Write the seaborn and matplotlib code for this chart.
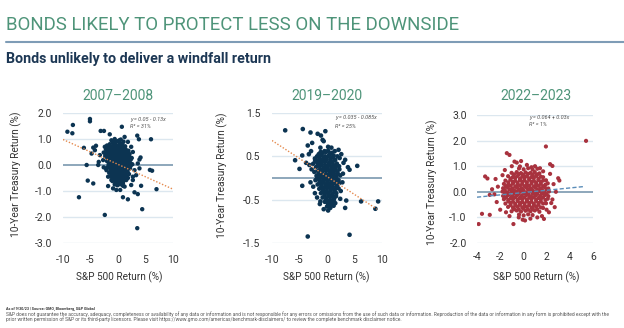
import matplotlib
matplotlib.use("Agg")
import matplotlib.pyplot as plt
import seaborn as sns
import pandas as pd
import numpy as np
from matplotlib.lines import Line2D
from matplotlib.ticker import FormatStrFormatter

# ---------------- text ----------------
title = "BONDS LIKELY TO PROTECT LESS ON THE DOWNSIDE"
subtitle = "Bonds unlikely to deliver a windfall return"
panel_titles = ["2007–2008", "2019–2020", "2022–2023"]
x_label = "S&P 500 Return (%)"
y_label = "10-Year Treasury Return (%)"
eq_lines = ["y = 0.05 - 0.13x", "y = 0.035 - 0.085x", "y = 0.064 + 0.03x"]
r2_lines = ["R² = 31%", "R² = 25%", "R² = 1%"]
source_line = "As of 9/30/23 | Source: GMO, Bloomberg, S&P Global"
disclaimer_1 = ("S&P does not guarantee the accuracy, adequacy, completeness or availability of any data or information and is not "
                "responsible for any errors or omissions from the use of such data or information. Reproduction of the data or "
                "information in any form is prohibited except with the")
disclaimer_2 = ("prior written permission of S&P or its third-party licensors. Please visit "
                "https://www.gmo.com/americas/benchmark-disclaimers/ to review the complete benchmark disclaimer notice.")

# ---------------- ticks ----------------
xticks = [[-10, -5, 0, 5, 10], [-10, -5, 0, 5, 10], [-4, -2, 0, 2, 4, 6]]
yticks = [[-3.0, -2.0, -1.0, 0.0, 1.0, 2.0], [-1.5, -0.5, 0.5, 1.5], [-2.0, -1.0, 0.0, 1.0, 2.0, 3.0]]

# fitted lines as drawn (intercept, slope, x-from, x-to)
fit_0708 = (0.025, -0.0955, -10, 10)
fit_1920 = (0.035, -0.083, -10, 9.1)
fit_2223 = (-0.03, 0.045, -4, 5.3)

# ---------------- data: (S&P 500 daily return, 10y Treasury return) ----------------
pts_0708 = [
    (-9.2, 1.28), (-8.2, 1.54), (-8.3, 1.22), (-5.1, 1.77), (-5.1, 1.68), (-6.2, 0.66), (-4.5, 0.67), (-4.0, 0.74),
    (-5.7, 0.0), (-3.6, 0.0), (-7.1, -1.24), (-5.5, -0.6), (-4.5, -0.71), (-2.4, -1.92), (0.7, 1.47), (3.5, 1.13),
    (3.8, 0.99), (6.0, 0.99), (5.8, -0.19), (6.2, -0.22), (7.0, -0.93), (4.4, -1.7), (3.5, -2.43), (1.8, -1.32),
    (0.9, -1.24), (3.0, -1.05), (3.6, -1.12), (4.2, -0.8), (3.9, 0.21), (4.1, 0.29), (-3.5, 0.12), (-3.15, 1.31),
    (-2.55, 1.31), (-1.5, 1.18), (-4.2, 0.57), (-4.8, 0.44), (-3.3, 0.38), (-2.7, 0.19), (-2.6, -0.09), (-2.1, -0.2),
    (-1.8, -0.45), (-1.2, -0.58), (-1.8, -0.81), (-0.9, -0.9), (-0.3, -0.96), (0.4, -0.96), (1.2, -0.83), (2.4, -0.77),
    (2.7, -0.45), (3.0, -0.2), (2.4, 0.0), (2.1, 0.31), (2.7, 0.5), (2.4, 0.7), (1.8, 0.89), (1.2, 1.08),
    (3.6, 0.06), (3.9, -0.13), (3.3, -0.39), (2.7, -0.58), (1.5, -0.58), (0.9, -0.7),
    (-1.2, 0.95), (-0.6, 1.0), (0.0, 0.92), (0.5, 0.98), (-0.9, 0.85), (0.3, 0.85), (1.0, 0.9),
    (-2.0, 0.75), (-1.5, 0.8), (-1.0, 0.72), (-0.4, 0.78), (0.1, 0.74), (0.7, 0.76), (1.3, 0.72), (-2.4, 0.7),
    (-2.2, 0.6), (-1.7, 0.62), (-1.2, 0.58), (-0.7, 0.63), (-0.2, 0.6), (0.3, 0.62), (0.8, 0.58), (1.4, 0.6), (1.9, 0.55),
    (-2.6, 0.48), (-2.0, 0.45), (-1.5, 0.47), (-1.0, 0.44), (-0.5, 0.48), (0.0, 0.45), (0.5, 0.47), (1.0, 0.43), (1.6, 0.46), (2.1, 0.42),
    (-2.3, 0.32), (-1.8, 0.3), (-1.3, 0.33), (-0.8, 0.29), (-0.3, 0.31), (0.2, 0.3), (0.7, 0.33), (1.2, 0.28), (1.8, 0.3), (2.5, 0.27),
    (-2.0, 0.15), (-1.5, 0.17), (-1.0, 0.14), (-0.5, 0.16), (0.0, 0.13), (0.5, 0.17), (1.0, 0.15), (1.5, 0.12), (2.0, 0.16),
    (-1.7, 0.02), (-1.2, -0.01), (-0.7, 0.03), (-0.2, 0.0), (0.3, 0.02), (0.8, -0.02), (1.3, 0.01), (1.9, -0.03), (2.6, 0.03),
    (-2.2, -0.13), (-1.4, -0.15), (-0.9, -0.17), (-0.4, -0.14), (0.1, -0.16), (0.6, -0.13), (1.1, -0.15), (1.6, -0.18), (2.2, -0.12),
    (-1.6, -0.3), (-1.1, -0.32), (-0.6, -0.28), (-0.1, -0.31), (0.4, -0.29), (0.9, -0.33), (1.5, -0.3), (2.0, -0.35),
    (-1.3, -0.45), (-0.8, -0.47), (-0.3, -0.44), (0.2, -0.46), (0.7, -0.43), (1.2, -0.48), (1.8, -0.5),
    (-1.0, -0.62), (-0.5, -0.6), (0.0, -0.63), (0.5, -0.58), (1.0, -0.61),
    (-0.6, -0.75), (-0.1, -0.78), (0.4, -0.74), (0.9, -0.8),
    (-0.95, 0.88), (-0.35, 0.9), (0.25, 0.95), (0.8, 0.82), (-1.75, 0.7), (-1.25, 0.68), (-0.7, 0.7), (-0.15, 0.68), (0.45, 0.7), (1.0, 0.66),
    (-1.95, 0.52), (-1.45, 0.54), (-0.95, 0.52), (-0.45, 0.55), (0.05, 0.53), (0.55, 0.55), (1.1, 0.5), (1.7, 0.52),
    (-2.3, 0.38), (-1.75, 0.39), (-1.25, 0.38), (-0.75, 0.4), (-0.25, 0.38), (0.25, 0.39), (0.75, 0.38), (1.3, 0.37), (1.95, 0.36),
    (-1.8, 0.22), (-1.25, 0.23), (-0.75, 0.22), (-0.25, 0.23), (0.25, 0.22), (0.75, 0.24), (1.25, 0.21), (1.75, 0.23), (2.3, 0.2),
    (-1.45, 0.08), (-0.95, 0.07), (-0.45, 0.09), (0.05, 0.06), (0.55, 0.08), (1.05, 0.07), (1.6, 0.05), (2.2, 0.07),
    (-1.8, -0.07), (-1.15, -0.08), (-0.65, -0.06), (-0.15, -0.08), (0.35, -0.07), (0.85, -0.09), (1.35, -0.06), (1.9, -0.1),
    (-1.35, -0.23), (-0.85, -0.22), (-0.35, -0.24), (0.15, -0.22), (0.65, -0.23), (1.2, -0.25), (1.75, -0.24),
    (-1.05, -0.38), (-0.55, -0.37), (-0.05, -0.39), (0.45, -0.37), (0.95, -0.4), (1.5, -0.4),
    (-0.75, -0.53), (-0.25, -0.52), (0.25, -0.54), (0.75, -0.52), (1.3, -0.56),
    (-0.35, -0.68), (0.15, -0.7), (0.65, -0.67),
]

pts_1920 = [
    (-7.6, 1.10), (-4.4, 1.13), (-3.0, 1.05), (-1.7, 1.02), (-1.1, 0.98), (-0.3, 1.08), (-0.8, 0.88), (-0.6, 0.85),
    (-2.7, 0.81), (-3.5, 0.75), (-5.8, 0.41), (-4.5, 0.52), (-5.0, 0.21), (-4.5, -0.18), (2.1, 0.65), (3.3, 0.42),
    (3.8, 0.25), (4.1, 0.19), (5.5, 0.28), (6.2, -0.54), (9.3, -0.54), (8.8, -0.71), (3.3, -0.69), (3.5, -0.52),
    (2.4, -0.48), (-3.5, -1.35), (4.1, -1.31), (-1.2, -0.54), (0.6, -0.69), (1.2, -0.64),
    (-3.3, 0.55), (-2.9, 0.62), (-3.2, 0.3), (-2.8, 0.2), (-3.0, -0.1), (-2.5, -0.2), (-2.2, -0.35), (-1.8, -0.45),
    (-1.3, -0.6), (2.5, -0.3), (2.8, -0.1), (2.9, 0.1), (3.0, 0.35), (2.6, 0.55), (-3.8, 0.35), (-1.2, 0.7),
    (0.2, 0.72), (0.8, 0.7), (1.4, 0.62), (-0.6, -0.72), (1.5, -0.58), (0.2, -0.75),
    (-1.5, 0.55), (-0.8, 0.58), (-0.2, 0.6), (0.5, 0.55), (1.2, 0.52),
    (-2.2, 0.45), (-1.4, 0.47), (-0.7, 0.44), (0.0, 0.48), (0.7, 0.45), (1.5, 0.42), (2.3, 0.46),
    (-2.5, 0.33), (-1.8, 0.36), (-1.1, 0.35), (-0.4, 0.37), (0.3, 0.34), (1.0, 0.36), (1.8, 0.33),
    (-2.0, 0.25), (-1.3, 0.27), (-0.6, 0.24), (0.1, 0.26), (0.8, 0.25), (1.5, 0.23), (2.2, 0.27),
    (-2.3, 0.14), (-1.6, 0.16), (-0.9, 0.15), (-0.2, 0.17), (0.5, 0.14), (1.2, 0.16), (1.9, 0.13),
    (-1.9, 0.05), (-1.2, 0.06), (-0.5, 0.04), (0.2, 0.06), (0.9, 0.05), (1.6, 0.03), (2.4, 0.06),
    (-2.1, -0.05), (-1.4, -0.04), (-0.7, -0.06), (0.0, -0.05), (0.7, -0.04), (1.4, -0.07), (2.1, -0.05),
    (-1.7, -0.15), (-1.0, -0.14), (-0.3, -0.16), (0.4, -0.15), (1.1, -0.13), (1.8, -0.17),
    (-1.4, -0.25), (-0.7, -0.26), (0.0, -0.24), (0.7, -0.25), (1.4, -0.27), (2.1, -0.24),
    (-1.1, -0.35), (-0.4, -0.36), (0.3, -0.34), (1.0, -0.37), (1.7, -0.35),
    (-0.8, -0.45), (-0.1, -0.47), (0.6, -0.44), (1.3, -0.46),
    (-0.4, -0.55), (0.3, -0.57), (1.0, -0.54),
    (0.0, -0.66), (0.7, -0.64),
    (-1.15, 0.6), (-0.45, 0.62), (0.2, 0.63), (0.85, 0.58),
    (-1.8, 0.5), (-1.05, 0.52), (-0.35, 0.5), (0.35, 0.52), (1.1, 0.49), (1.9, 0.5),
    (-2.15, 0.4), (-1.45, 0.41), (-0.75, 0.4), (-0.05, 0.42), (0.65, 0.39), (1.4, 0.41),
    (-1.65, 0.3), (-0.95, 0.31), (-0.25, 0.29), (0.45, 0.31), (1.15, 0.3), (1.85, 0.29),
    (-1.25, 0.2), (-0.55, 0.21), (0.15, 0.2), (0.85, 0.21), (1.55, 0.19), (2.25, 0.2),
    (-1.55, 0.1), (-0.85, 0.11), (-0.15, 0.09), (0.55, 0.11), (1.25, 0.1), (1.95, 0.09),
    (-1.75, 0.0), (-1.05, 0.01), (-0.35, -0.01), (0.35, 0.0), (1.05, 0.01), (1.75, -0.01),
    (-1.35, -0.1), (-0.65, -0.09), (0.05, -0.11), (0.75, -0.1), (1.45, -0.09), (2.2, -0.12),
    (-1.05, -0.2), (-0.35, -0.21), (0.35, -0.19), (1.05, -0.2), (1.75, -0.22),
    (-0.75, -0.3), (-0.05, -0.31), (0.65, -0.29), (1.35, -0.31),
    (-0.45, -0.4), (0.25, -0.41), (0.95, -0.39), (1.65, -0.42),
    (-0.15, -0.5), (0.55, -0.51), (1.25, -0.5),
    (0.2, -0.6), (0.85, -0.6),
]

pts_2223 = [
    (5.4, 1.99), (1.94, 1.77), (-1.43, 1.51), (-1.2, 1.44), (2.3, 1.08), (2.5, 1.01), (-3.86, -1.26), (-3.57, -0.86),
    (-2.9, -0.9), (-3.3, 0.6), (-3.1, 0.52), (3.0, 0.53), (3.1, 0.44), (-0.86, -1.26), (-0.06, -1.09), (0.14, -1.12),
    (1.77, -1.06), (1.43, 0.92), (-0.77, 1.18), (-0.57, 1.14), (-0.3, 0.99), (0.7, 0.96),
    (-2.4, 0.5), (-2.2, 0.2), (-2.5, -0.1), (-2.3, -0.4), (-2.0, -0.7), (-1.8, 0.65), (-1.6, 0.85), (-1.0, 1.0),
    (-0.2, 1.2), (0.3, 1.05), (1.0, 1.0), (1.2, 0.9), (1.7, 0.8), (2.3, 0.7), (2.6, 0.3), (2.8, 0.0),
    (2.5, -0.3), (2.7, -0.6), (2.2, -0.8), (1.6, -0.95), (1.2, -1.0), (0.6, -1.05), (-0.4, -1.0), (-1.2, -0.95),
    (-1.5, -0.8), (-2.7, 0.1), (-2.9, -0.12), (2.4, -0.44), (2.0, -0.7),
    (-0.38, 0.91), (0.02, 0.88), (0.41, 0.92), (0.79, 0.87),
    (-1.02, 0.74), (-0.58, 0.77), (-0.21, 0.73), (0.18, 0.76), (0.62, 0.74), (0.98, 0.77), (1.38, 0.72),
    (-1.32, 0.61), (-0.9, 0.58), (-0.5, 0.62), (-0.1, 0.59), (0.3, 0.61), (0.7, 0.58), (1.1, 0.62), (1.5, 0.59), (1.7, 0.57),
    (-1.55, 0.44), (-1.12, 0.47), (-0.7, 0.43), (-0.3, 0.46), (0.1, 0.44), (0.5, 0.47), (0.9, 0.43), (1.3, 0.46), (1.7, 0.44), (1.95, 0.45),
    (-1.68, 0.31), (-1.3, 0.28), (-0.9, 0.32), (-0.5, 0.29), (-0.1, 0.31), (0.3, 0.28), (0.7, 0.32), (1.1, 0.29), (1.5, 0.31), (1.9, 0.28), (2.1, 0.33),
    (-1.75, 0.14), (-1.35, 0.17), (-0.95, 0.13), (-0.55, 0.16), (-0.15, 0.14), (0.25, 0.17), (0.65, 0.13), (1.05, 0.16), (1.45, 0.14), (1.85, 0.17), (2.15, 0.13),
    (-1.8, 0.01), (-1.4, -0.02), (-1.0, 0.02), (-0.6, -0.01), (-0.2, 0.02), (0.2, -0.02), (0.6, 0.01), (1.0, -0.01), (1.4, 0.02), (1.8, -0.02), (2.2, 0.01),
    (-1.75, -0.16), (-1.35, -0.13), (-0.95, -0.17), (-0.55, -0.14), (-0.15, -0.16), (0.25, -0.13), (0.65, -0.17), (1.05, -0.14), (1.45, -0.16), (1.85, -0.13), (2.15, -0.17),
    (-1.68, -0.29), (-1.3, -0.32), (-0.9, -0.28), (-0.5, -0.31), (-0.1, -0.29), (0.3, -0.32), (0.7, -0.28), (1.1, -0.31), (1.5, -0.29), (1.9, -0.32), (2.1, -0.27),
    (-1.55, -0.46), (-1.12, -0.43), (-0.7, -0.47), (-0.3, -0.44), (0.1, -0.46), (0.5, -0.43), (0.9, -0.47), (1.3, -0.44), (1.7, -0.46), (1.95, -0.45),
    (-1.32, -0.59), (-0.9, -0.62), (-0.5, -0.58), (-0.1, -0.61), (0.3, -0.59), (0.7, -0.62), (1.1, -0.58), (1.5, -0.61), (1.7, -0.63),
    (-1.02, -0.76), (-0.58, -0.73), (-0.21, -0.77), (0.18, -0.74), (0.62, -0.76), (0.98, -0.73), (1.38, -0.78),
    (-0.38, -0.89), (0.02, -0.92), (0.41, -0.88), (0.79, -0.91),
    (-0.8, 0.68), (-0.4, 0.69), (0.0, 0.66), (0.4, 0.7), (0.8, 0.67), (1.2, 0.68),
    (-1.1, 0.52), (-0.7, 0.54), (-0.3, 0.51), (0.1, 0.55), (0.5, 0.52), (0.9, 0.54), (1.3, 0.51),
    (-1.3, 0.37), (-0.9, 0.39), (-0.5, 0.36), (-0.1, 0.4), (0.3, 0.37), (0.7, 0.39), (1.1, 0.36), (1.5, 0.38),
    (-1.5, 0.22), (-1.1, 0.24), (-0.7, 0.21), (-0.3, 0.24), (0.1, 0.22), (0.5, 0.23), (0.9, 0.21), (1.3, 0.24), (1.7, 0.22),
    (-1.6, 0.07), (-1.2, 0.09), (-0.8, 0.06), (-0.4, 0.08), (0.0, 0.07), (0.4, 0.09), (0.8, 0.06), (1.2, 0.08), (1.6, 0.07), (2.0, 0.09),
    (-1.6, -0.07), (-1.2, -0.09), (-0.8, -0.06), (-0.4, -0.08), (0.0, -0.07), (0.4, -0.09), (0.8, -0.06), (1.2, -0.08), (1.6, -0.07), (2.0, -0.09),
    (-1.5, -0.22), (-1.1, -0.24), (-0.7, -0.21), (-0.3, -0.24), (0.1, -0.22), (0.5, -0.23), (0.9, -0.21), (1.3, -0.24), (1.7, -0.22),
    (-1.3, -0.37), (-0.9, -0.39), (-0.5, -0.36), (-0.1, -0.4), (0.3, -0.37), (0.7, -0.39), (1.1, -0.36), (1.5, -0.38),
    (-1.1, -0.52), (-0.7, -0.54), (-0.3, -0.51), (0.1, -0.55), (0.5, -0.52), (0.9, -0.54), (1.3, -0.51),
    (-0.8, -0.68), (-0.4, -0.69), (0.0, -0.66), (0.4, -0.7), (0.8, -0.67), (1.2, -0.68),
]

# ---------------- style ----------------
sns.set_theme(style="white")
plt.rcParams["font.family"] = ["Roboto", "DejaVu Sans"]
plt.rcParams["axes.unicode_minus"] = False

GREEN = "#4E9479"
NAVY = "#0C3452"
RED = "#A8323E"
GRID = "#DCE7EF"
ZERO = "#6F8FA8"
TXT = "#333333"

W, H = 624, 328
fig = plt.figure(figsize=(W / 100, H / 100), dpi=100)
fig.patch.set_facecolor("white")
renderer = fig.canvas.get_renderer()


def add_ax(l, r, t, b):
    return fig.add_axes([l / W, 1 - b / H, (r - l) / W, (b - t) / H])


def fit_width(txt, target_px, lo=2.0, hi=20.0):
    """Choose the largest font size whose rendered width does not exceed target_px."""
    for _ in range(30):
        mid = (lo + hi) / 2
        txt.set_fontsize(mid)
        w = txt.get_window_extent(renderer=renderer).width
        if w > target_px:
            hi = mid
        else:
            lo = mid
    txt.set_fontsize(lo)


panels = [
    dict(pts=pts_0708, color=NAVY, box=(63, 173, 113, 243), xlim=(-10, 10), ylim=(-3.0, 2.0),
         fit=fit_0708, fitcolor="#E58A4E", fitstyle=(0, (1.0, 1.3)), xpad=8.5, ypad=8,
         tx=118, ty=95.5, ylx=16, yly=174, xlx=119, xly=277, eqx=130, eqy=119, s=10),
    dict(pts=pts_1920, color=NAVY, box=(272, 382, 113, 243), xlim=(-10, 10), ylim=(-1.5, 1.5),
         fit=fit_1920, fitcolor="#E58A4E", fitstyle=(0, (1.0, 1.3)), xpad=8.5, ypad=8.5,
         tx=327, ty=95.5, ylx=222, yly=175, xlx=326, xly=277, eqx=335, eqy=118, s=11),
    dict(pts=pts_2223, color=RED, box=(477, 593, 115, 243), xlim=(-4, 6), ylim=(-2.0, 3.0),
         fit=fit_2223, fitcolor="#5A8DB9", fitstyle=(0, (3.0, 1.6)), xpad=6.5, ypad=7.5,
         tx=536, ty=96.5, ylx=432, yly=182, xlx=536, xly=277, eqx=529, eqy=117, s=9),
]

for i, p in enumerate(panels):
    ax = add_ax(*p["box"])
    df = pd.DataFrame(p["pts"], columns=["sp500", "ust10"])
    ax.set_xlim(*p["xlim"])
    ax.set_ylim(*p["ylim"])
    ax.set_yticks(yticks[i])
    ax.set_xticks(xticks[i])
    for yv in yticks[i]:
        if yv != 0:
            ax.axhline(yv, color=GRID, lw=1.0, zorder=0)
    ax.axhline(0, color=ZERO, lw=1.1, zorder=1)
    sns.scatterplot(data=df, x="sp500", y="ust10", ax=ax, s=p["s"], color=p["color"],
                    linewidth=0, edgecolor="none", zorder=2, legend=False)
    a, b, x0, x1 = p["fit"]
    xs = np.array([x0, x1])
    ax.plot(xs, a + b * xs, color=p["fitcolor"], lw=1.0, linestyle=p["fitstyle"], zorder=3)
    for s in ax.spines.values():
        s.set_visible(False)
    ax.set_facecolor("none")
    ax.yaxis.set_major_formatter(FormatStrFormatter("%.1f"))
    ax.xaxis.set_major_formatter(FormatStrFormatter("%d"))
    ax.tick_params(axis="both", length=0, labelsize=7.5, colors=TXT)
    ax.tick_params(axis="x", pad=p["xpad"])
    ax.tick_params(axis="y", pad=p["ypad"])
    ax.set_xlabel("")
    ax.set_ylabel("")
    fig.text(p["tx"] / W, 1 - p["ty"] / H, panel_titles[i], ha="center", va="center",
             fontsize=10, color=GREEN)
    fig.text(p["ylx"] / W, 1 - p["yly"] / H, y_label, rotation=90, ha="center", va="center",
             fontsize=7.3, color=TXT)
    fig.text(p["xlx"] / W, 1 - p["xly"] / H, x_label, ha="center", va="center",
             fontsize=7.2, color=TXT)
    fig.text(p["eqx"] / W, 1 - p["eqy"] / H, eq_lines[i], ha="left", va="center",
             fontsize=4.0, style="italic", color="#555555")
    fig.text(p["eqx"] / W, 1 - (p["eqy"] + 8) / H, r2_lines[i], ha="left", va="center",
             fontsize=4.0, style="italic", color="#555555")

# header
fig.text(6 / W, 1 - 25.5 / H, title, ha="left", va="center", fontsize=13.4, color=GREEN)
fig.add_artist(Line2D([6 / W, 1.0], [1 - 42.3 / H, 1 - 42.3 / H], color="#7E9CB6", lw=1.5))
fig.text(6 / W, 1 - 58.5 / H, subtitle, ha="left", va="center", fontsize=10.3,
         fontweight="bold", color="#1C3754")

# footer
t_src = fig.text(6 / W, 1 - 309 / H, source_line, ha="left", va="center", fontsize=3.5,
                 fontweight="bold", color="#333333")
t_d1 = fig.text(6 / W, 1 - 314.5 / H, disclaimer_1, ha="left", va="center", fontsize=3.5, color="#555555")
t_d2 = fig.text(6 / W, 1 - 319.5 / H, disclaimer_2, ha="left", va="center", fontsize=3.5, color="#555555")
fit_width(t_d1, 610)
t_d2.set_fontsize(t_d1.get_fontsize())
fit_width(t_src, 92)

fig.savefig("out.png", dpi=100, facecolor="white")
